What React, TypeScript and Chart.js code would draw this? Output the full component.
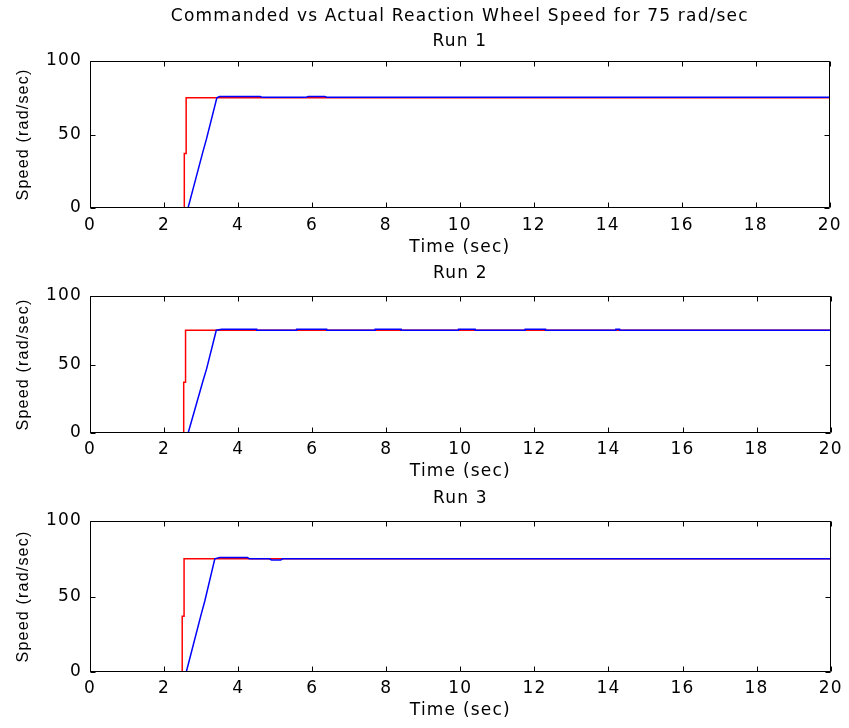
import React, { useEffect, useRef } from 'react';
import { Chart, registerables } from 'chart.js';

Chart.register(...registerables);

// ---- text ----
const mainTitle = 'Commanded vs Actual Reaction Wheel Speed for 75 rad/sec';
const runTitles = ['Run 1', 'Run 2', 'Run 3'];
const xAxisLabel = 'Time (sec)';
const yAxisLabel = 'Speed (rad/sec)';

// ---- axes ----
const xMin = 0;
const xMax = 20;
const xStep = 2;
const yMin = 0;
const yMax = 100;
const yStep = 50;

// ---- Run 1 ----
const cmdTime1 = [0, 2.55, 2.55, 2.6, 2.6, 20];
const cmdSpeed1 = [0, 0, 37, 37, 75, 75];
const actTime1 = [0, 2.65, 2.85, 3.05, 3.15, 3.43, 3.5, 4.6, 4.65, 5.85, 5.9, 6.35, 6.4, 20];
const actSpeed1 = [0, 0, 19, 38, 47, 75, 75.8, 75.8, 75.4, 75.4, 75.9, 75.9, 75.4, 75.4];

// ---- Run 2 ----
const cmdTime2 = [0, 2.53, 2.53, 2.58, 2.58, 20];
const cmdSpeed2 = [0, 0, 37, 37, 75, 75];
const actTime2 = [0, 2.65, 2.85, 3.05, 3.15, 3.41, 3.56, 4.5, 4.5, 5.58, 5.58, 6.39, 6.39, 7.7, 7.7, 8.4, 8.4, 9.95, 9.95, 10.4, 10.4, 11.75, 11.75, 12.3, 12.3, 14.2, 14.2, 14.3, 14.3, 20];
const actSpeed2 = [0, 0, 19, 38, 47, 75, 75.8, 75.8, 75, 75, 75.8, 75.8, 75, 75, 75.8, 75.8, 75, 75, 75.8, 75.8, 75, 75, 75.8, 75.8, 75, 75, 75.8, 75.8, 75, 75];

// ---- Run 3 ----
const cmdTime3 = [0, 2.49, 2.49, 2.54, 2.54, 20];
const cmdSpeed3 = [0, 0, 37, 37, 75, 75];
const actTime3 = [0, 2.6, 2.8, 3.0, 3.1, 3.37, 3.5, 4.25, 4.3, 4.85, 4.9, 5.15, 5.2, 20];
const actSpeed3 = [0, 0, 19, 38, 47, 75, 75.8, 75.8, 75, 75, 74.2, 74.2, 75, 75];

const runs = [
  { cmdT: cmdTime1, cmdV: cmdSpeed1, actT: actTime1, actV: actSpeed1 },
  { cmdT: cmdTime2, cmdV: cmdSpeed2, actT: actTime2, actV: actSpeed2 },
  { cmdT: cmdTime3, cmdV: cmdSpeed3, actT: actTime3, actV: actSpeed3 },
];

// ---- layout (pixels) ----
const FONT = '"DejaVu Sans", Verdana, sans-serif';
const YTITLE_FONT = '"Liberation Sans", Arial, sans-serif';
const FS = 17;
const LH = 1.2;
const LETTER_SPACING = '1.2px';
const TITLE_LH = 25; // px per title line
const panels = [
  { top: 0, height: 258, lines: [mainTitle, runTitles[0]], tPadTop: 4, tPadBottom: 7, xBox: 50, tickPad: 7.3, xTitlePadBottom: 0.3 },
  { top: 258, height: 224, lines: [runTitles[1]], tPadTop: 3, tPadBottom: 10, xBox: 49, tickPad: 6.3, xTitlePadBottom: 0.3 },
  { top: 482, height: 239, lines: [runTitles[2]], tPadTop: 4, tPadBottom: 10, xBox: 49, tickPad: 6.3, xTitlePadBottom: 0.3 },
];

const toPoints = (t: number[], v: number[]) => t.map((x, i) => ({ x, y: v[i] }));

const spacingPlugin = {
  id: 'letterSpacing',
  beforeInit(chart: any) {
    (chart.ctx as any).letterSpacing = LETTER_SPACING;
  },
  beforeUpdate(chart: any) {
    (chart.ctx as any).letterSpacing = LETTER_SPACING;
  },
  beforeDraw(chart: any) {
    (chart.ctx as any).letterSpacing = LETTER_SPACING;
  },
};

const boxPlugin = {
  id: 'matlabBox',
  afterDraw(chart: any) {
    const { ctx, chartArea } = chart;
    const { left, right, top, bottom } = chartArea;
    const xs = chart.scales.x;
    const ys = chart.scales.y;
    const L = Math.round(left) + 0.5;
    const R = Math.round(right) - 0.5;
    const T = Math.round(top) + 0.5;
    const B = Math.round(bottom) - 0.5;
    const tl = 5;
    ctx.save();
    ctx.strokeStyle = '#000';
    ctx.lineWidth = 1;
    ctx.beginPath();
    ctx.rect(L, T, R - L, B - T);
    xs.ticks.forEach((t: any) => {
      const px = Math.round(xs.getPixelForValue(t.value)) + 0.5;
      ctx.moveTo(px, B);
      ctx.lineTo(px, B - tl);
      ctx.moveTo(px, T);
      ctx.lineTo(px, T + tl);
    });
    ys.ticks.forEach((t: any) => {
      const py = Math.round(ys.getPixelForValue(t.value)) + 0.5;
      ctx.moveTo(L, py);
      ctx.lineTo(L + tl, py);
      ctx.moveTo(R, py);
      ctx.lineTo(R - tl, py);
    });
    ctx.stroke();
    ctx.restore();
  },
};

export default function App() {
  const refs = [useRef<HTMLCanvasElement>(null), useRef<HTMLCanvasElement>(null), useRef<HTMLCanvasElement>(null)];

  useEffect(() => {
    const charts: Chart[] = [];
    panels.forEach((p, i) => {
      const canvas = refs[i].current;
      if (!canvas) return;
      const run = runs[i];
      const font = { family: FONT, size: FS, lineHeight: LH, weight: 'normal' as const };
      const chart = new Chart(canvas, {
        type: 'line',
        data: {
          datasets: [
            {
              label: 'Commanded',
              data: toPoints(run.cmdT, run.cmdV),
              borderColor: '#ff0000',
              borderWidth: 1.5,
              pointRadius: 0,
              fill: false,
              tension: 0,
              order: 2,
            },
            {
              label: 'Actual',
              data: toPoints(run.actT, run.actV),
              borderColor: '#0000ff',
              borderWidth: 1.5,
              pointRadius: 0,
              fill: false,
              tension: 0,
              order: 1,
            },
          ],
        },
        options: {
          responsive: false,
          animation: false,
          devicePixelRatio: 1,
          layout: { padding: { left: 0, right: 16, top: 0, bottom: 0 } },
          plugins: {
            legend: { display: false },
            tooltip: { enabled: false },
            title: {
              display: true,
              text: p.lines,
              color: '#000',
              fullSize: false,
              font: { family: FONT, size: FS, weight: 'normal', lineHeight: TITLE_LH / FS },
              padding: { top: p.tPadTop, bottom: p.tPadBottom },
            },
          },
          scales: {
            x: {
              type: 'linear',
              min: xMin,
              max: xMax,
              grid: { display: false, drawTicks: false },
              border: { display: false },
              ticks: { stepSize: xStep, color: '#000', font, padding: p.tickPad, autoSkip: false, maxRotation: 0 },
              title: { display: true, text: xAxisLabel, color: '#000', font, padding: { top: 0, bottom: p.xTitlePadBottom } },
              afterFit: (s: any) => {
                s.height = p.xBox;
              },
            },
            y: {
              type: 'linear',
              min: yMin,
              max: yMax,
              grid: { display: false, drawTicks: false },
              border: { display: false },
              ticks: { stepSize: yStep, color: '#000', font, padding: 8 },
              title: {
                display: true,
                text: yAxisLabel,
                color: '#000',
                font: { family: YTITLE_FONT, size: 16, lineHeight: LH, weight: 'normal' },
                padding: { top: 13.5, bottom: 0 },
              },
              afterFit: (s: any) => {
                s.width = 90;
              },
            },
          },
        },
        plugins: [spacingPlugin, boxPlugin],
      } as any);
      charts.push(chart);
    });
    return () => charts.forEach((c) => c.destroy());
  }, []);

  return (
    <div style={{ position: 'absolute', left: 0, top: 0, width: 849, height: 728, background: '#fff' }}>
      {panels.map((p, i) => (
        <canvas
          key={i}
          ref={refs[i]}
          width={849}
          height={p.height}
          style={{ position: 'absolute', left: 0, top: p.top, width: 849, height: p.height, display: 'block' }}
        />
      ))}
    </div>
  );
}
